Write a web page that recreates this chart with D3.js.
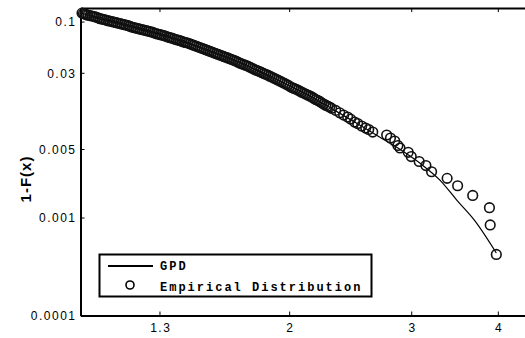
<!DOCTYPE html>
<html>
<head>
<meta charset="utf-8">
<script src="https://cdnjs.cloudflare.com/ajax/libs/d3/7.8.5/d3.min.js"></script>
<style>
  body { margin: 0; background: #fff; }
  svg { display: block; }
  .axis text { font-family: "Liberation Sans", Arial, sans-serif; font-size: 12px; letter-spacing: 1.5px; fill: #000; }
  .axis .domain { stroke: #000; stroke-width: 2; }
  .axis line { stroke: #000; stroke-width: 1; }
  .legend text { font-family: "Liberation Mono", "DejaVu Sans Mono", monospace; font-size: 12px; font-weight: bold; letter-spacing: 2px; fill: #000; }
</style>
</head>
<body>
<div id="chart"></div>
<script>
// empirical tail points (sparse tail first, then the dense band)
var empX = [3.98, 3.90, 3.89, 3.68, 3.50, 3.38, 3.21, 3.15, 3.08, 3.00,
            2.97, 2.89, 2.87, 2.84, 2.80, 2.765, 2.64, 2.605, 2.579, 2.545,
            2.511, 2.486, 2.453, 2.429, 2.397, 2.366, 2.334, 2.303, 2.288, 2.273,
            2.258, 2.243, 2.228, 2.214, 2.199, 2.184, 2.170, 2.156, 2.141, 2.127,
            2.113, 2.099, 2.085, 2.072, 2.058, 2.044, 2.031, 2.018, 2.004, 1.991,
            1.978, 1.965, 1.952, 1.939, 1.926, 1.913, 1.900, 1.888, 1.875, 1.863,
            1.850, 1.838, 1.826, 1.814, 1.802, 1.790, 1.778, 1.766, 1.754, 1.743,
            1.731, 1.720, 1.708, 1.697, 1.686, 1.675, 1.664, 1.653, 1.642, 1.631,
            1.620, 1.610, 1.600, 1.589, 1.578, 1.568, 1.557, 1.547, 1.537, 1.527,
            1.517, 1.507, 1.497, 1.487, 1.477, 1.467, 1.457, 1.448, 1.438, 1.428,
            1.418, 1.409, 1.400, 1.391, 1.382, 1.373, 1.363, 1.354, 1.345, 1.337,
            1.328, 1.319, 1.310, 1.302, 1.293, 1.285, 1.276, 1.268, 1.259, 1.251,
            1.243, 1.235, 1.226, 1.218, 1.210, 1.202, 1.194, 1.186, 1.178, 1.171,
            1.163, 1.155, 1.147, 1.140, 1.132, 1.125, 1.117, 1.110, 1.102, 1.095,
            1.088, 1.081, 1.074, 1.067, 1.060, 1.053, 1.046, 1.039, 1.032, 1.025,
            1.020, 1.015, 1.010, 1.005];
var empY = [0.00042, 0.00084, 0.00126, 0.00168, 0.00211, 0.00251, 0.00293, 0.00339, 0.00373, 0.00419,
            0.00463, 0.00512, 0.00543, 0.00604, 0.00648, 0.00695, 0.00745, 0.00791, 0.00819, 0.00858,
            0.0091, 0.00942, 0.0101, 0.0106, 0.0111, 0.0117, 0.0124, 0.0130, 0.0134, 0.0137,
            0.0140, 0.0144, 0.0148, 0.0153, 0.0157, 0.0160, 0.0165, 0.0170, 0.0174, 0.0178,
            0.0182, 0.0186, 0.0190, 0.0195, 0.0200, 0.0205, 0.0208, 0.0212, 0.0218, 0.0225,
            0.0230, 0.0236, 0.0241, 0.0247, 0.0253, 0.0259, 0.0265, 0.0271, 0.0277, 0.0284,
            0.0289, 0.0295, 0.0302, 0.0309, 0.0314, 0.0320, 0.0327, 0.0335, 0.0343, 0.0351,
            0.0357, 0.0364, 0.0370, 0.0377, 0.0386, 0.0395, 0.0402, 0.0410, 0.0417, 0.0425,
            0.0432, 0.0440, 0.0447, 0.0455, 0.0463, 0.0471, 0.0480, 0.0489, 0.0497, 0.0506,
            0.0515, 0.0524, 0.0533, 0.0543, 0.0552, 0.0562, 0.0572, 0.0582, 0.0593, 0.0604,
            0.0611, 0.0618, 0.0629, 0.0640, 0.0647, 0.0655, 0.0667, 0.0679, 0.0687, 0.0695,
            0.0707, 0.0720, 0.0728, 0.0737, 0.0745, 0.0754, 0.0767, 0.0781, 0.0790, 0.0800,
            0.0809, 0.0819, 0.0828, 0.0838, 0.0848, 0.0858, 0.0868, 0.0879, 0.0894, 0.0910,
            0.0921, 0.0932, 0.0943, 0.0954, 0.0965, 0.0977, 0.0988, 0.100, 0.101, 0.102,
            0.1035, 0.105, 0.106, 0.107, 0.109, 0.111, 0.1125, 0.114, 0.115, 0.116,
            0.1175, 0.119, 0.1205, 0.122];

// fitted GPD curve
var gpdX = [1.0, 1.1, 1.2, 1.3, 1.5, 1.7, 1.9, 2.1, 2.3, 2.5, 2.7, 2.9, 3.1, 3.3, 3.5, 3.7, 3.98];
var gpdY = [0.1227, 0.101, 0.0861, 0.0740, 0.0530, 0.0377, 0.0262, 0.0186, 0.0130, 0.0092,
            0.00663, 0.00488, 0.00351, 0.00241, 0.00147, 0.00094, 0.000434];

var xTicks = [1.3, 2, 3, 4];
var yTicks = [0.0001, 0.001, 0.005, 0.03, 0.1];
var seriesNames = ["GPD", "Empirical Distribution"];

var W = 525, H = 338;
var plotL = 80.5, plotT = 8, plotR = 565, plotB = 315.5;

var svg = d3.select("#chart").append("svg")
    .attr("width", W)
    .attr("height", H);

var x = d3.scaleLog().domain([1, 5]).range([plotL, plotR]);
var y = d3.scaleLog().domain([0.0001, 0.1375]).range([plotB, plotT]);

var fmt = d => String(d);

svg.append("g")
    .attr("class", "axis")
    .attr("transform", "translate(0," + plotB + ")")
    .call(d3.axisBottom(x).tickValues(xTicks).tickFormat(fmt).tickSizeInner(-4).tickSizeOuter(0).tickPadding(8))
    .call(g => g.selectAll("text").attr("dx", "0.75px"));

svg.append("g")
    .attr("class", "axis")
    .attr("transform", "translate(0," + plotT + ")")
    .call(d3.axisTop(x).tickValues(xTicks).tickFormat("").tickSizeInner(-4).tickSizeOuter(0));

svg.append("g")
    .attr("class", "axis")
    .attr("transform", "translate(" + plotL + ",0)")
    .call(d3.axisLeft(y).tickValues(yTicks).tickFormat(fmt).tickSizeInner(-4).tickSizeOuter(0).tickPadding(4))
    .call(g => g.selectAll("text").attr("dy", "0.36em"));

svg.append("g")
    .attr("class", "axis")
    .attr("transform", "translate(" + plotR + ",0)")
    .call(d3.axisRight(y).tickValues(yTicks).tickFormat("").tickSizeInner(-4).tickSizeOuter(0));

// axis titles
svg.append("text")
    .attr("transform", "translate(31,179) rotate(-90)")
    .attr("text-anchor", "middle")
    .style("font-family", "Liberation Sans, Arial, sans-serif")
    .style("font-weight", "bold")
    .style("font-size", "15px")
    .style("letter-spacing", "1px")
    .text("1-F(x)");

svg.append("text")
    .attr("x", 328)
    .attr("y", 346)
    .attr("text-anchor", "middle")
    .style("font-family", "Liberation Sans, Arial, sans-serif")
    .style("font-weight", "bold")
    .style("font-size", "15px")
    .text("x");

// GPD line
var gpd = gpdX.map((d, i) => ({ x: d, y: gpdY[i] }));
svg.append("path")
    .datum(gpd)
    .attr("fill", "none")
    .attr("stroke", "#000")
    .attr("stroke-width", 1.2)
    .attr("d", d3.line().x(d => x(d.x)).y(d => y(d.y)).curve(d3.curveMonotoneX));

// empirical points
var emp = empX.map((d, i) => ({ x: d, y: empY[i] }));
svg.append("g").selectAll("circle")
    .data(emp)
    .enter().append("circle")
    .attr("cx", d => x(d.x))
    .attr("cy", d => y(d.y))
    .attr("r", 4.8)
    .attr("fill", "none")
    .attr("stroke", "#111")
    .attr("stroke-width", 1.6);

// legend
var lg = svg.append("g").attr("class", "legend");
lg.append("rect")
    .attr("x", 99.5).attr("y", 254.5)
    .attr("width", 272).attr("height", 42)
    .attr("fill", "#fff")
    .attr("stroke", "#000")
    .attr("stroke-width", 2);
lg.append("line")
    .attr("x1", 108).attr("x2", 153)
    .attr("y1", 266).attr("y2", 266)
    .attr("stroke", "#000")
    .attr("stroke-width", 2);
lg.append("circle")
    .attr("cx", 130).attr("cy", 285)
    .attr("r", 4)
    .attr("fill", "none")
    .attr("stroke", "#000")
    .attr("stroke-width", 1.6);
lg.append("text").attr("x", 160).attr("y", 270).text(seriesNames[0]);
lg.append("text").attr("x", 160).attr("y", 291).text(seriesNames[1]);
</script>
</body>
</html>
